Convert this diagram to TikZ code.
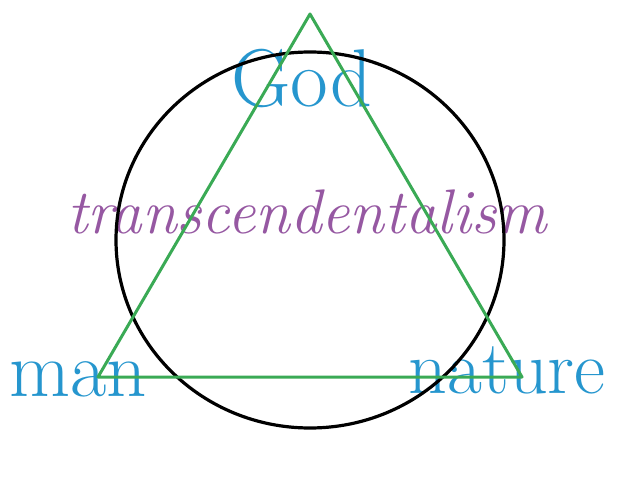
\documentclass[tikz,border=0pt]{standalone}
\usepackage{fontspec}
\usepackage{tikz}
\tikzset{>=latex}
\definecolor{godblue}{RGB}{38,150,206}
\definecolor{transpurple}{RGB}{150,88,162}
\definecolor{trigreen}{RGB}{58,170,85}
\tikzset{
  word/.style={inner sep=0pt, anchor=base, text=godblue},
  side/.style={trigreen, line width=3pt, line cap=round, line join=round}
}

\begin{document}
\begin{tikzpicture}[x=1pt,y=1pt]
                    \useasboundingbox (0,0) rectangle (626,480);
                    \node[word] (god) at (302,373) {\fontsize{82}{94}\selectfont God};
                    \node[word, text=transpurple] (trans) at (307,247) {\fontsize{63}{74}\selectfont\itshape transcendentalism};
                    \node[word] (man) at (78,84) {\fontsize{79}{90}\selectfont man};
                    \node[word] (nature) at (507,87) {\fontsize{76}{88}\selectfont nature};
                    \coordinate (apex) at (310,466);
                    \coordinate (manpt) at (98,103);
                    \coordinate (naturept) at (522,103);
                    \draw[black, line width=3.2pt] (310,240) ellipse [x radius=194, y radius=188];
                    \draw[side] (apex) -- (manpt) -- (naturept) -- cycle;
                    \end{tikzpicture}
\end{document}
